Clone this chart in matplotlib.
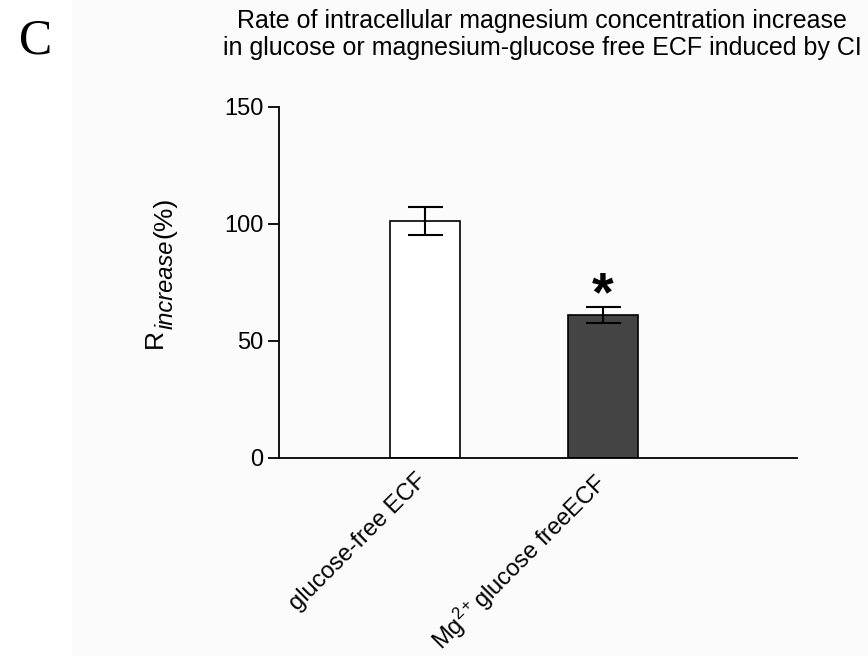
import matplotlib
matplotlib.use('Agg')
import matplotlib.pyplot as plt
from matplotlib.patches import Rectangle
from matplotlib.transforms import ScaledTranslation

groups = ['glucose-free ECF', r'Mg$^{2+}$glucose freeECF']
means = [101.3, 61.1]
errs = [5.8, 3.4]
colors = ['white', '#444444']
yticks = [0, 50, 100, 150]

plt.rcParams['font.family'] = ['Liberation Sans', 'DejaVu Sans']
plt.rcParams['mathtext.fontset'] = 'custom'
plt.rcParams['mathtext.rm'] = 'Liberation Sans'
plt.rcParams['mathtext.it'] = 'Liberation Sans:italic'

W, H = 868, 656
fig = plt.figure(figsize=(W / 100, H / 100), dpi=100, facecolor='white')
# very faint grey panel behind the graph (white strip on the far left)
fig.patches.append(Rectangle((72 / W, 0), 1, 1, transform=fig.transFigure,
                             facecolor='#fbfbfb', edgecolor='none', zorder=-10))

ax = fig.add_axes([279 / W, 1 - 458 / H, (797 - 279) / W, (458 - 107) / H])
ax.patch.set_visible(False)

x = list(range(len(groups)))
ax.bar(x, means, width=0.39, color=colors, edgecolor='black', linewidth=1.2, zorder=2)
ax.errorbar(x, means, yerr=errs, fmt='none', ecolor='black', elinewidth=1.5,
            capsize=12.6, capthick=1.5, zorder=3)
ax.text(1, 69, '*', ha='center', va='center', fontsize=40, fontweight='bold')

ax.set_xlim(-0.82, 2.09)
ax.set_ylim(0, 150)
ax.set_yticks(yticks)
ax.tick_params(axis='y', labelsize=17, length=8, width=1.3, pad=3, direction='out')
ax.tick_params(axis='x', length=0, labelsize=17, pad=6)
ax.set_xticks(x)
ax.set_xticklabels(groups, rotation=45, ha='right', rotation_mode='anchor')
shifts = [(-0.10, -0.03), (-0.11, -0.02)]
for lab, (dx, dy) in zip(ax.get_xticklabels(), shifts):
    lab.set_transform(lab.get_transform() + ScaledTranslation(dx, dy, fig.dpi_scale_trans))
for s in ['top', 'right']:
    ax.spines[s].set_visible(False)
for s in ['left', 'bottom']:
    ax.spines[s].set_linewidth(1.3)

# y label: R, italic subscript "increase", then (%)
def vtext(px, py, s, **kw):
    fig.text(px / W, 1 - py / H, s, rotation=90, rotation_mode='anchor',
             ha='left', va='baseline', **kw)

vtext(162, 348, 'R', fontsize=19)
vtext(173, 329, 'increase', fontsize=17, style='italic')
vtext(171, 238, '(%)', fontsize=19)

fig.text(542 / W, 1 - 28 / H, 'Rate of intracellular magnesium concentration increase',
         ha='center', va='baseline', fontsize=18)
fig.text(542 / W, 1 - 55 / H, 'in glucose or magnesium-glucose free ECF induced by CI',
         ha='center', va='baseline', fontsize=18)
fig.text(36 / W, 1 - 18 / H, 'C', ha='center', va='top', fontsize=36, family='Liberation Serif')

fig.savefig('out.png', dpi=100, facecolor='white')
